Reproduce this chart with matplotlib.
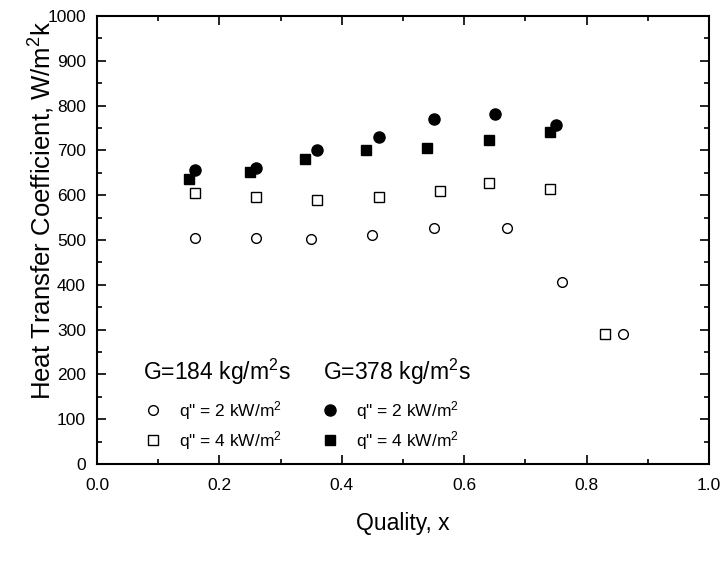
import matplotlib
matplotlib.use("Agg")
import matplotlib.pyplot as plt
from matplotlib.ticker import MultipleLocator, FormatStrFormatter

plt.rcParams['font.family'] = ['Liberation Sans', 'DejaVu Sans']
plt.rcParams['mathtext.fontset'] = 'custom'
plt.rcParams['mathtext.rm'] = 'Liberation Sans'
plt.rcParams['mathtext.it'] = 'Liberation Sans'

# Data
x_g184_q2 = [0.16, 0.26, 0.35, 0.45, 0.55, 0.67, 0.76, 0.86]
h_g184_q2 = [505, 504, 503, 511, 527, 527, 407, 290]
x_g184_q4 = [0.16, 0.26, 0.36, 0.46, 0.56, 0.64, 0.74, 0.83]
h_g184_q4 = [605, 595, 590, 595, 610, 628, 614, 290]
x_g378_q2 = [0.16, 0.26, 0.36, 0.46, 0.55, 0.65, 0.75]
h_g378_q2 = [657, 660, 700, 731, 770, 782, 757]
x_g378_q4 = [0.15, 0.25, 0.34, 0.44, 0.54, 0.64, 0.74]
h_g378_q4 = [637, 651, 681, 700, 705, 723, 740]

group_titles = ['G=184 kg/m$^2$s', 'G=378 kg/m$^2$s']
entry_labels = ['q" = 2 kW/m$^2$', 'q" = 4 kW/m$^2$']

fig = plt.figure(figsize=(7.26, 5.62), dpi=100)
ax = fig.add_axes([97/726, 1-464/562, 612/726, 448/562])

o1, = ax.plot(x_g184_q2, h_g184_q2, 'o', ms=7, mfc='white', mec='black', mew=1.0, linestyle='none')
s1, = ax.plot(x_g184_q4, h_g184_q4, 's', ms=6.5, mfc='white', mec='black', mew=1.0, linestyle='none')
o2, = ax.plot(x_g378_q2, h_g378_q2, 'o', ms=8, mfc='black', mec='black', linestyle='none')
s2, = ax.plot(x_g378_q4, h_g378_q4, 's', ms=7, mfc='black', mec='black', linestyle='none')

ax.set_xlim(0, 1.0)
ax.set_ylim(0, 1000)
ax.xaxis.set_major_locator(MultipleLocator(0.2))
ax.xaxis.set_minor_locator(MultipleLocator(0.1))
ax.yaxis.set_major_locator(MultipleLocator(100))
ax.yaxis.set_minor_locator(MultipleLocator(50))
ax.xaxis.set_major_formatter(FormatStrFormatter('%.1f'))
ax.tick_params(which='both', direction='in', top=True, right=True, width=1.2, labelsize=12.5)
ax.tick_params(axis='x', which='both', pad=10)
ax.tick_params(axis='y', which='both', pad=8)
ax.tick_params(which='major', length=6.5)
ax.tick_params(which='minor', length=3.8)
for sp in ax.spines.values():
    sp.set_linewidth(1.5)

ax.set_xlabel('Quality, x', fontsize=16.5, labelpad=14)
ax.set_ylabel('Heat Transfer Coefficient, W/m$^2$k', fontsize=18.5)
ax.yaxis.set_label_coords(-0.066, 0.567)

# group headers
ax.text(0.075, 0.1875, group_titles[0], transform=ax.transAxes, fontsize=16.5, va='baseline', ha='left')
ax.text(0.369, 0.1875, group_titles[1], transform=ax.transAxes, fontsize=16.5, va='baseline', ha='left')

leg_kw = dict(fontsize=12.5, loc='upper left', frameon=False, borderpad=0, borderaxespad=0,
              handlelength=1.0, handletextpad=1.0, labelspacing=0.42)
leg1 = ax.legend([o1, s1], entry_labels, bbox_to_anchor=(0.0773, 0.145), **leg_kw)
ax.add_artist(leg1)
leg2 = ax.legend([o2, s2], entry_labels, bbox_to_anchor=(0.3665, 0.145), **leg_kw)

fig.savefig('out.png', dpi=100)
